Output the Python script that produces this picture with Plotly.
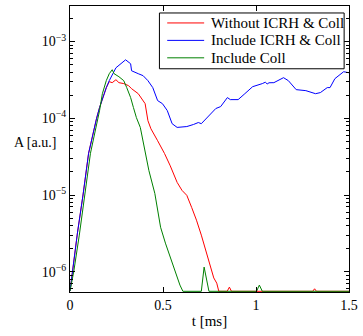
import plotly.graph_objects as go

FLOOR = 10 ** -6.255

# Without ICRH & Coll (red)
t_red = [0.0, 0.013, 0.04, 0.07, 0.1, 0.143, 0.159, 0.195, 0.211, 0.227, 0.247, 0.263, 0.289, 0.315,
         0.331, 0.367, 0.383, 0.404, 0.419, 0.435, 0.471, 0.508, 0.539, 0.576, 0.602, 0.628, 0.654,
         0.68, 0.706, 0.732, 0.758, 0.773, 0.789, 0.8, 0.845, 0.857, 0.868, 1.305, 1.315, 1.325, 1.5]
a_red = [5.6e-7, 1.0e-6, 3.2e-6, 1.0e-5, 3.5e-5, 1.0e-4, 1.38e-4, 2.5e-4, 3.0e-4, 2.91e-4, 3.18e-4,
         2.91e-4, 2.83e-4, 2.66e-4, 2.43e-4, 2.09e-4, 1.86e-4, 1.55e-4, 9.3e-5, 7.3e-5, 5.1e-5, 3.48e-5,
         2.4e-5, 1.46e-5, 1.15e-5, 9.9e-6, 6.9e-6, 4.7e-6, 3.0e-6, 1.8e-6, 1.15e-6, 8.3e-7, 7.1e-7,
         FLOOR, FLOOR, 6.3e-7, FLOOR, FLOOR, 6.0e-7, FLOOR, FLOOR]

# Include ICRH & Coll (blue)
t_blue = [0.0, 0.013, 0.04, 0.07, 0.1, 0.143, 0.159, 0.195, 0.211, 0.247, 0.279, 0.299, 0.326, 0.331,
          0.367, 0.393, 0.419, 0.445, 0.471, 0.497, 0.523, 0.549, 0.576, 0.628, 0.664, 0.69, 0.706,
          0.747, 0.784, 0.81, 0.846, 0.862, 0.904, 0.94, 0.982, 1.034, 1.05, 1.06, 1.07, 1.096, 1.148,
          1.174, 1.216, 1.268, 1.32, 1.346, 1.383, 1.398, 1.424, 1.471, 1.5]
a_blue = [5.6e-7, 1.0e-6, 3.2e-6, 1.0e-5, 3.5e-5, 1.0e-4, 1.38e-4, 2.5e-4, 3.09e-4, 4.55e-4, 5.29e-4,
          5.78e-4, 5.13e-4, 4.16e-4, 3.81e-4, 3.59e-4, 3.09e-4, 2.51e-4, 1.70e-4, 1.55e-4, 1.26e-4,
          8.5e-5, 7.6e-5, 7.8e-5, 8.3e-5, 8.8e-5, 8.5e-5, 1.08e-4, 1.34e-4, 1.42e-4, 1.86e-4, 1.75e-4,
          1.75e-4, 2.09e-4, 2.58e-4, 2.83e-4, 2.95e-4, 2.8e-4, 2.9e-4, 2.91e-4, 3.38e-4, 3.09e-4,
          2.36e-4, 2.29e-4, 2.09e-4, 2.16e-4, 2.51e-4, 2.51e-4, 3.28e-4, 4.04e-4, 3.92e-4]

# Include Coll (green)
t_green = [0.0, 0.02, 0.05, 0.08, 0.11, 0.159, 0.174, 0.195, 0.211, 0.227, 0.237, 0.263, 0.289, 0.305,
           0.326, 0.341, 0.357, 0.378, 0.393, 0.409, 0.424, 0.456, 0.487, 0.513, 0.539, 0.576, 0.591,
           0.607, 0.706, 0.721, 0.747, 1.003, 1.018, 1.034, 1.5]
a_green = [5.6e-7, 1.0e-6, 3.0e-6, 1.0e-5, 3.5e-5, 1.26e-4, 2.09e-4, 3.09e-4, 3.81e-4, 4.29e-4,
           3.81e-4, 3.48e-4, 3.09e-4, 2.51e-4, 1.86e-4, 1.38e-4, 1.02e-4, 7.6e-5, 5.1e-5, 3.09e-5,
           2.09e-5, 1.05e-5, 3.8e-6, 2.36e-6, 1.55e-6, 9.1e-7, 6.7e-7, FLOOR, FLOOR, 1.15e-6, FLOOR,
           FLOOR, 6.7e-7, FLOOR, FLOOR]

names = ["Without ICRH & Coll", "Include ICRH & Coll", "Include Coll"]
colors = ["#ff0000", "#0000ff", "#008000"]

x_tickvals = [0, 0.5, 1, 1.5]
x_ticktext = ["0", "0.5", "1", "1.5"]
y_tickvals = [1e-6, 1e-5, 1e-4, 1e-3]
y_ticktext = ["10<sup>−6</sup>", "10<sup>−5</sup>", "10<sup>−4</sup>", "10<sup>−3</sup>"]
y_minor = [m * 10 ** e for e in (-7, -6, -5, -4, -3) for m in range(2, 10)]

FONT = "Liberation Serif, Times New Roman, serif"

# plot area in pixels (for placing the hand-drawn legend)
L, R, T, B = 70, 357, 5, 292
W, H = R - L, B - T


def px(x):
    return (x - L) / W


def py(y):
    return (B - y) / H


fig = go.Figure()
for t, a, n, c in zip([t_red, t_blue, t_green], [a_red, a_blue, a_green], names, colors):
    fig.add_trace(go.Scatter(x=t, y=a, mode="lines", name=n, line=dict(color=c, width=1)))

shapes = [dict(type="rect", xref="paper", yref="paper", x0=px(162), x1=px(352), y0=py(68), y1=py(12),
               line=dict(color="black", width=1), fillcolor="white", layer="above")]
annotations = [dict(text="A [a.u.]", x=px(34.5), y=py(142), xref="paper", yref="paper",
                    xanchor="center", yanchor="middle", showarrow=False,
                    font=dict(family=FONT, size=14))]
row_y = [22, 39.5, 57]
for n, c, ry in zip(names, colors, row_y):
    shapes.append(dict(type="line", xref="paper", yref="paper", x0=px(170), x1=px(208),
                       y0=py(ry), y1=py(ry), line=dict(color=c, width=1), layer="above"))
    annotations.append(dict(text=n, x=px(213), y=py(ry), xref="paper", yref="paper",
                            xanchor="left", yanchor="middle", showarrow=False,
                            font=dict(family=FONT, size=15)))

fig.update_layout(
    width=363, height=336,
    margin=dict(l=L, r=363 - R, t=T, b=336 - B),
    paper_bgcolor="white", plot_bgcolor="white",
    font=dict(family=FONT, size=14, color="black"),
    showlegend=False,
    xaxis=dict(range=[0, 1.5], tickvals=x_tickvals, ticktext=x_ticktext,
               ticks="inside", ticklen=5, tickcolor="black", showline=True, linecolor="black",
               linewidth=1, mirror="allticks", showgrid=False, zeroline=False,
               ticklabeloverflow="allow",
               title=dict(text="t [ms]", standoff=3, font=dict(family=FONT, size=15))),
    yaxis=dict(type="log", range=[-6.264, -2.537], tickvals=y_tickvals, ticktext=y_ticktext,
               ticks="inside", ticklen=5, tickcolor="black", showline=True, linecolor="black",
               linewidth=1, mirror="allticks", showgrid=False, zeroline=False,
               minor=dict(tickvals=y_minor, ticks="inside", ticklen=3, tickcolor="black", showgrid=False)),
    shapes=shapes,
    annotations=annotations,
)

fig.write_html("out.html", config={"displayModeBar": False},
               post_script="document.body.style.margin='0';document.body.style.overflow='hidden';")
